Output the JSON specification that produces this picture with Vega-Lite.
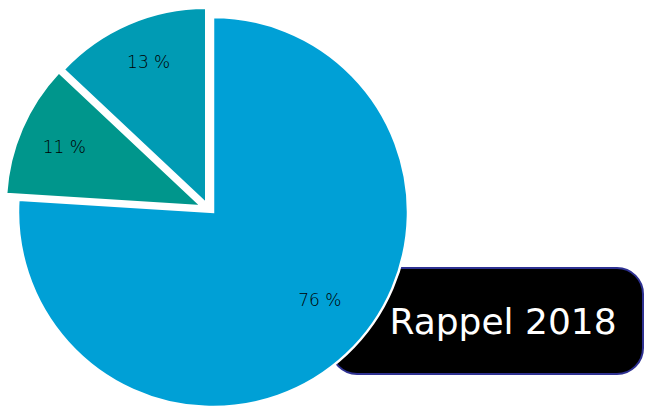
{
  "$schema": "https://vega.github.io/schema/vega-lite/v6.json",
  "width": 312,
  "height": 106,
  "autosize": "none",
  "padding": {"left": 331, "top": 268, "right": 2, "bottom": 33},
  "background": "white",
  "view": {"fill": "black", "stroke": "#2e3192", "strokeWidth": 2, "cornerRadius": 26},
  "data": {"values": [
    {"cat": "1", "value": 76, "label": "76 %"},
    {"cat": "2", "value": 11, "label": "11 %"},
    {"cat": "3", "value": 13, "label": "13 %"}
  ]},
  "transform": [{"stack": "value", "groupby": [], "sort": [{"field": "cat"}], "as": ["v0", "v1"]}],
  "layer": [
    {
      "transform": [{"filter": "datum.cat == '1'"}],
      "mark": {"type": "arc", "stroke": "white", "strokeWidth": 2.5, "radius": 195, "xOffset": -274, "yOffset": -109},
      "encoding": {
        "theta": {"field": "v0", "type": "quantitative", "scale": {"domain": [0, 100]}},
        "theta2": {"field": "v1"},
        "color": {"field": "cat", "type": "nominal", "legend": null,
          "scale": {"domain": ["1", "2", "3"], "range": ["#00a0d6", "#00968c", "#009bb4"]}}
      }
    },
    {
      "transform": [{"filter": "datum.cat == '2'"}],
      "mark": {"type": "arc", "stroke": "white", "strokeWidth": 2, "radius": 195, "xOffset": -286, "yOffset": -115},
      "encoding": {
        "theta": {"field": "v0", "type": "quantitative", "scale": {"domain": [0, 100]}},
        "theta2": {"field": "v1"},
        "color": {"field": "cat", "type": "nominal", "legend": null}
      }
    },
    {
      "transform": [{"filter": "datum.cat == '3'"}],
      "mark": {"type": "arc", "stroke": "white", "strokeWidth": 2, "radius": 195, "xOffset": -281, "yOffset": -118},
      "encoding": {
        "theta": {"field": "v0", "type": "quantitative", "scale": {"domain": [0, 100]}},
        "theta2": {"field": "v1"},
        "color": {"field": "cat", "type": "nominal", "legend": null}
      }
    },
    {
      "mark": {"type": "text", "font": "DejaVu Sans", "fontWeight": 200, "fontSize": 17, "fill": "black", "radius": 162, "xOffset": -274, "yOffset": -109},
      "encoding": {
        "theta": {"field": "value", "type": "quantitative", "stack": true, "scale": {"domain": [0, 100]}},
        "order": {"field": "cat"},
        "opacity": {"condition": {"test": "datum.cat == '1'", "value": 0}, "value": 1},
        "text": {"field": "label"}
      }
    },
    {
      "transform": [{"filter": "datum.cat == '1'"}],
      "mark": {"type": "text", "font": "DejaVu Sans", "fontWeight": 200, "fontSize": 17, "fill": "black", "radius": 140, "xOffset": -263, "yOffset": -122},
      "encoding": {
        "theta": {"field": "value", "type": "quantitative", "stack": true, "scale": {"domain": [0, 100]}},
        "text": {"field": "label"}
      }
    },
    {
      "data": {"values": [{"title": "Rappel 2018"}]},
      "mark": {"type": "text", "font": "DejaVu Sans", "fontSize": 36, "fill": "white", "dx": 16, "dy": 2},
      "encoding": {"text": {"field": "title"}}
    }
  ]
}
